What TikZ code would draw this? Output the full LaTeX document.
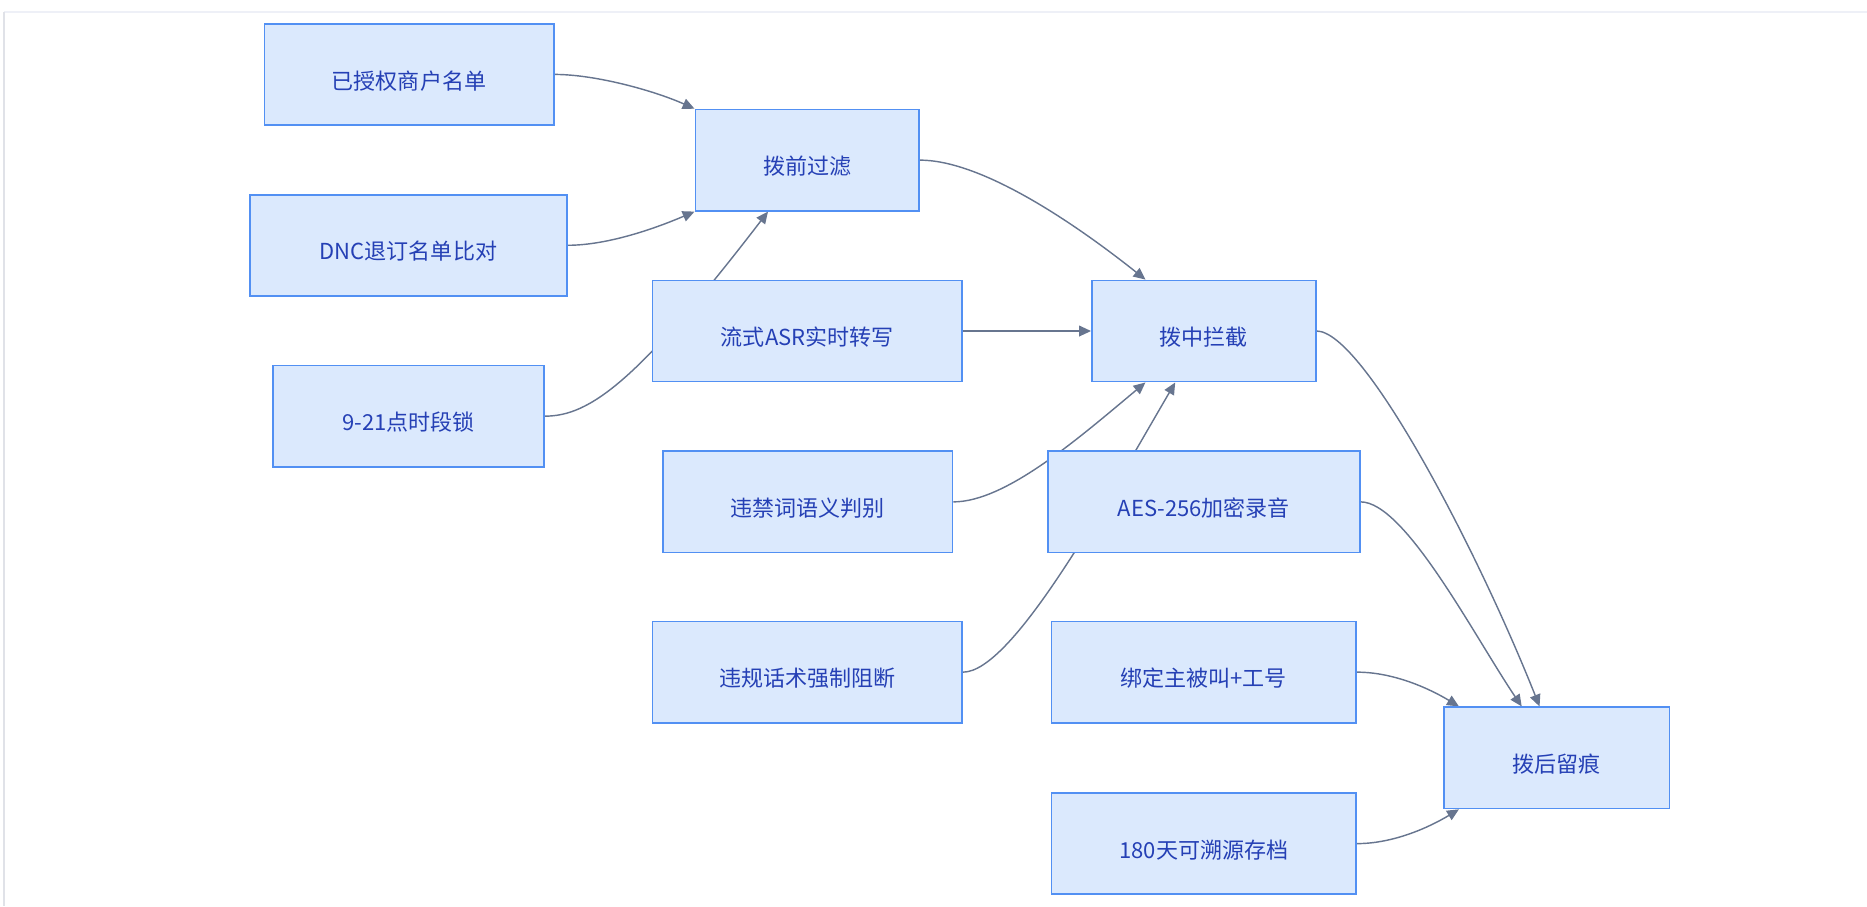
\documentclass[tikz,border=0pt]{standalone}
\usepackage{fontspec}
\setmainfont{Noto Sans CJK SC}
\usetikzlibrary{arrows.meta,calc}
\pgfdeclarelayer{background}
\pgfsetlayers{background,main}
\definecolor{boxfill}{HTML}{DBE9FD}
\definecolor{boxline}{HTML}{5290F3}
\definecolor{boxtext}{HTML}{2540B5}
\definecolor{edgecol}{HTML}{67758F}
\definecolor{frametop}{HTML}{EEF0F7}
\definecolor{frameleft}{HTML}{E0E2E8}
\tikzset{
  box/.style={draw=boxline, fill=boxfill, line width=1.4pt, text=boxtext,
    minimum height=85pt, inner sep=0pt, text height=24.6pt, text depth=0pt,
    font=\fontsize{18.5}{22}\selectfont},
  edge/.style={draw=edgecol, line width=1.2pt, -{Triangle[length=10pt,width=9pt]}}
}
\begin{document}
\begin{tikzpicture}[x=1pt,y=-1pt]
\useasboundingbox (0,0) rectangle (1568,761);
\draw[frametop, line width=1pt] (3.5,10) -- (1568,10);
\draw[frameleft, line width=2pt] (3.5,10) -- (3.5,761);

\node[box, minimum width=243pt] (A) at (343.5,62.5) {已授权商户名单};
\node[box, minimum width=266pt] (B) at (343,206) {DNC退订名单比对};
\node[box, minimum width=228pt] (C) at (343,349.5) {9-21点时段锁};
\node[box, minimum width=188pt] (D) at (678,134.5) {拨前过滤};
\node[box, minimum width=260pt] (E) at (678,278) {流式ASR实时转写};
\node[box, minimum width=243pt] (F) at (678.5,421.5) {违禁词语义判别};
\node[box, minimum width=260pt] (G) at (678,564.5) {违规话术强制阻断};
\node[box, minimum width=188pt] (H) at (1011,278) {拨中拦截};
\node[box, minimum width=262pt] (I) at (1011,421.5) {AES-256加密录音};
\node[box, minimum width=256pt] (J) at (1011,564.5) {绑定主被叫+工号};
\node[box, minimum width=256pt] (K) at (1011,708.5) {180天可溯源存档};
\node[box, minimum width=189pt] (L) at (1307.5,636.5) {拨后留痕};

\coordinate (Din) at ($(D.south)+(-33,0)$);
\coordinate (Hn) at ($(H.north)+(-49,0)$);
\coordinate (Hs1) at ($(H.south)+(-49,0)$);
\coordinate (Hs2) at ($(H.south)+(-24,0)$);
\coordinate (Ln1) at ($(L.north)+(-29.5,0)$);
\coordinate (Ln2) at ($(L.north)+(-14.5,0)$);
\coordinate (Lnw) at ($(L.north west)+(13,0)$);
\coordinate (Lsw) at ($(L.south west)+(13,0)$);

\begin{pgfonlayer}{background}
\draw[edge] (A.east) .. controls (500,62.5) and (549,76) .. (D.north west);
\draw[edge] (B.east) .. controls (510,206) and (550,192) .. (D.south west);
\draw[edge] (C.east) .. controls (495,349.5) and (535,321) .. (Din);
\draw[edge] (D.east) .. controls (830,134.5) and (917,199) .. (Hn);
\draw[edge] (E.east) -- (H.west);
\draw[edge] (F.east) .. controls (845,421.5) and (907,367) .. (Hs1);
\draw[edge] (G.east) .. controls (850,564.5) and (927,424) .. (Hs2);
\draw[edge] (H.east) .. controls (1145,278) and (1240,460) .. (Ln2);
\draw[edge] (I.east) .. controls (1180,421.5) and (1238,534) .. (Ln1);
\draw[edge] (J.east) .. controls (1170,564.5) and (1200,578) .. (Lnw);
\draw[edge] (K.east) .. controls (1170,708.5) and (1200,695) .. (Lsw);
\end{pgfonlayer}
\end{tikzpicture}
\end{document}
